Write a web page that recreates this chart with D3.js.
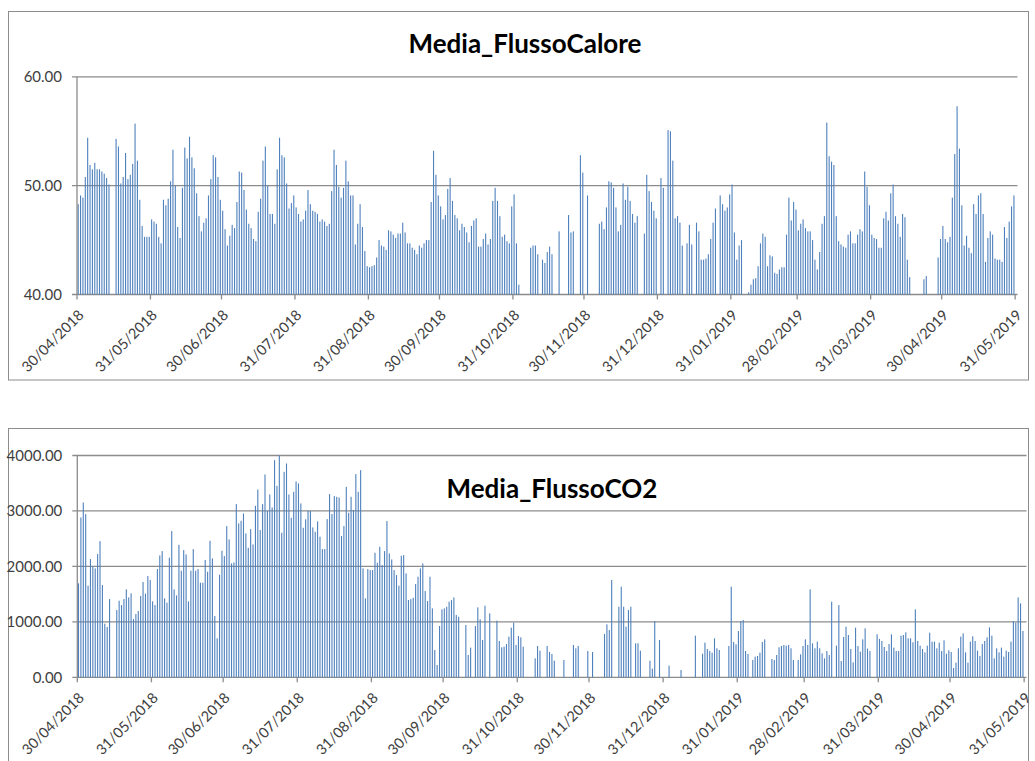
<!DOCTYPE html>
<html><head><meta charset="utf-8">
<script src="https://cdn.jsdelivr.net/npm/d3@7"></script>
<style>
html,body{margin:0;padding:0;background:#fff;}
svg{display:block;}
text{font-family:Lato,"Open Sans",sans-serif;}
</style></head>
<body>
<svg id="c" width="1035" height="761"></svg>
<script>
// ---- data ----
const startDate = "2018-04-30";
const endDate = "2019-05-31";
const tickLabels = ["30/04/2018","31/05/2018","30/06/2018","31/07/2018","31/08/2018","30/09/2018","31/10/2018","30/11/2018","31/12/2018","31/01/2019","28/02/2019","31/03/2019","30/04/2019","31/05/2019"];
const title1 = "Media_FlussoCalore";
const title2 = "Media_FlussoCO2";
const yTicks1 = [40, 50, 60];
const yTicks2 = [0, 1000, 2000, 3000, 4000];
const N = null;
const flussoCalore = [
48.3,49.1,48.9,50.8,54.4,51.9,51.5,52.1,51.5,51.5,51.3,51.1,50.7,50.1,N,N,54.3,53.6,50.2,50.8,
53.0,50.6,51.0,52.0,55.7,52.3,48.7,46.3,45.3,45.3,45.3,46.9,46.7,46.5,45.3,44.7,48.7,48.2,48.8,50.4,
53.3,50.0,46.2,45.2,49.8,53.5,52.5,54.5,52.6,51.6,49.3,47.2,45.8,46.6,47.0,49.1,50.6,52.8,52.6,50.8,
48.7,47.7,46.0,44.5,45.4,46.4,46.1,48.5,51.3,51.2,49.6,47.8,46.5,46.1,45.1,44.9,47.6,48.8,52.3,53.6,
50.0,47.4,47.4,46.5,51.5,54.4,52.8,52.6,50.2,47.9,48.4,49.1,48.0,47.4,46.7,46.9,47.7,49.6,48.3,47.7,
47.6,47.4,46.7,46.9,46.7,46.3,46.5,49.5,53.3,51.9,49.9,48.9,49.8,52.3,50.4,49.1,49.1,44.6,46.5,48.3,
46.2,44.0,42.6,42.5,42.6,42.7,43.4,45.0,44.5,44.4,44.1,45.9,45.8,45.5,45.2,45.6,45.6,46.6,45.7,44.7,
44.7,44.3,44.1,43.7,44.5,44.3,44.7,45.0,45.0,48.5,53.2,51.0,49.1,48.1,46.9,47.3,49.7,50.7,48.6,47.3,
47.0,45.9,46.5,46.2,45.7,44.8,46.3,46.8,47.0,44.4,44.4,45.1,45.6,44.6,45.1,48.6,49.8,48.6,47.2,45.3,
45.5,44.9,44.7,48.1,49.2,44.7,40.9,N,N,N,N,44.3,44.5,44.5,43.7,N,43.2,42.9,43.9,44.4,
43.7,N,N,45.8,N,N,N,47.3,45.7,45.8,N,N,52.8,51.2,N,49.1,N,N,N,N,
46.5,46.7,46.0,48.0,50.4,50.3,49.8,48.0,45.8,46.4,50.2,48.7,49.9,48.6,47.4,46.6,47.2,N,N,45.6,
51.0,49.5,48.5,47.7,47.0,N,50.7,49.8,N,55.1,55.0,52.3,47.0,47.2,46.6,44.5,N,44.7,46.4,44.6,
N,46.6,45.8,43.2,43.2,43.3,43.7,45.1,46.6,47.9,N,49.1,48.3,47.7,48.0,49.2,50.1,45.7,43.2,44.5,
45.0,N,N,40.2,40.9,41.4,41.5,42.6,44.7,45.6,45.3,42.6,43.6,43.5,42.0,41.9,42.3,42.5,42.5,45.5,
48.9,46.8,48.5,47.8,45.9,46.5,46.9,46.1,45.8,45.8,45.0,43.2,42.3,43.9,46.5,47.2,55.8,52.7,52.2,51.9,
47.2,44.9,44.6,44.4,44.3,45.5,45.8,44.7,44.7,45.5,46.0,45.8,51.3,49.9,48.2,45.5,45.2,45.1,44.3,44.3,
47.0,47.6,46.8,49.3,50.1,47.2,46.5,45.3,47.4,47.1,43.2,41.6,N,N,N,N,N,41.4,41.7,N,
N,N,N,43.4,45.1,46.3,45.1,44.8,45.3,48.9,52.9,57.3,53.4,48.2,44.5,45.4,44.3,43.8,48.3,47.4,
49.1,49.3,47.4,43.0,45.2,45.8,45.5,43.3,43.2,43.2,43.0,46.2,45.2,46.7,48.1,49.1,N
];
const flussoCO2 = [
1694,2883,3153,2943,1652,2132,2006,1964,2222,2456,1664,967,907,1411,N,N,1213,1381,1303,1411,
1586,1441,1514,1051,1141,1195,1465,1718,1508,1826,1754,1369,1303,1952,2198,2276,1423,1345,2156,2637,
1586,1477,2390,1922,2294,2216,1369,1922,2312,1922,1952,1706,1706,2114,1904,2462,2144,1105,703,1850,
2282,2186,2727,2486,2054,2072,3123,2775,2823,2955,2595,2336,2673,2396,3093,3387,2655,3123,3658,3003,
3297,3063,3916,3453,4000,2607,3706,3856,3297,2877,3345,3532,3496,3135,2697,2850,3003,3003,2703,2625,
2811,2535,2312,2312,2853,3303,2943,3267,3255,3243,2547,2727,3435,2967,3255,3015,3664,3345,3736,1964,
1423,1952,1934,1934,2246,2066,2354,2024,2276,2817,2234,2126,1934,1844,1652,2192,2204,1874,1393,1411,
1435,1682,1814,1964,2054,1556,1375,1814,1243,492,222,925,1225,1243,1273,1363,1393,1441,1123,1093,
N,N,943,402,535,N,925,1261,1045,673,1291,N,1153,N,N,1021,655,541,553,601,
733,895,985,583,745,721,553,N,N,N,N,342,565,480,N,N,565,456,420,300,
N,N,N,312,N,N,N,583,523,565,N,N,N,474,N,456,N,N,N,N,
781,955,853,1754,N,N,1273,1634,1273,913,1213,1273,N,613,613,480,N,N,N,300,
156,1015,N,673,N,N,N,210,N,N,N,N,132,N,N,N,N,N,751,N,
N,426,625,510,474,444,703,523,492,N,N,N,565,1634,637,595,835,1015,1033,474,
420,N,312,372,384,444,637,685,N,N,330,312,402,541,565,583,571,583,523,312,
N,312,414,565,685,583,1586,613,523,643,523,432,342,474,402,1363,N,571,1303,294,
727,913,763,511,270,895,565,462,685,883,517,474,N,N,775,691,655,547,474,601,
775,535,474,474,751,763,811,703,703,631,1225,655,571,511,450,571,805,643,643,523,
625,474,667,426,486,456,168,264,523,733,793,450,264,643,739,655,480,384,601,655,
721,901,751,342,523,450,535,372,480,456,643,1015,985,1441,1333,835,N
];

// ---- drawing ----
const svg = d3.select("#c");
const parseISO = d3.utcParse("%Y-%m-%d");
const parseLbl = d3.utcParse("%d/%m/%Y");
const days = d3.utcDay.range(parseISO(startDate), d3.utcDay.offset(parseISO(endDate), 1));
const keyOf = d => +d;

const gridCol = "#8c8c8c";
const barCol = "#4F81BD";
const txtCol = "#404040";

function panel(cfg) {
  const g = svg.append("g");
  g.append("rect").attr("x", cfg.box[0]).attr("y", cfg.box[1])
    .attr("width", cfg.box[2]).attr("height", cfg.box[3])
    .attr("fill", "#fff").attr("stroke", gridCol).attr("stroke-width", 1);

  const x = d3.scaleBand().domain(days.map(keyOf)).range([cfg.x0, cfg.x1]).padding(0);
  const y = d3.scaleLinear().domain(cfg.yDomain).range([cfg.yBottom, cfg.yTop]);

  g.append("g").selectAll("line").data(cfg.yTicks).join("line")
    .attr("x1", cfg.x0 - 5).attr("x2", cfg.x1)
    .attr("y1", d => y(d)).attr("y2", d => y(d))
    .attr("stroke", gridCol).attr("stroke-width", 1.3);

  const data = days.map((d, i) => ({d, v: cfg.values[i]})).filter(o => o.v !== null && o.v > cfg.yDomain[0]);
  g.append("g").selectAll("rect").data(data).join("rect")
    .attr("x", o => x(keyOf(o.d)) + x.bandwidth() / 2 - 0.55)
    .attr("width", 1.1)
    .attr("y", o => y(Math.min(o.v, cfg.yDomain[1])))
    .attr("height", o => y(cfg.yDomain[0]) - y(Math.min(o.v, cfg.yDomain[1])))
    .attr("fill", barCol);

  g.append("line").attr("x1", cfg.x0).attr("x2", cfg.x0)
    .attr("y1", cfg.yTop).attr("y2", cfg.yBottom)
    .attr("stroke", gridCol).attr("stroke-width", 1.3);
  g.append("g").selectAll("text").data(cfg.yTicks).join("text")
    .attr("x", cfg.x0 - 15).attr("y", d => y(d)).attr("dy", "0.35em")
    .attr("text-anchor", "end").attr("font-size", 15).attr("fill", txtCol)
    .text(d => d3.format(".2f")(d));

  const tdates = tickLabels.map(s => parseLbl(s));
  g.append("g").selectAll("line").data(tdates).join("line")
    .attr("x1", d => x(keyOf(d))).attr("x2", d => x(keyOf(d)))
    .attr("y1", cfg.yBottom).attr("y2", cfg.yBottom + 5)
    .attr("stroke", gridCol).attr("stroke-width", 1.3);
  g.append("g").selectAll("text").data(tickLabels).join("text")
    .attr("transform", (s, i) => `translate(${x(keyOf(tdates[i])) + 4},${cfg.yBottom + 18}) rotate(-45)`)
    .attr("text-anchor", "end").attr("dy", "0.35em")
    .attr("font-size", 14.5).attr("fill", txtCol)
    .text(s => s);

  g.append("text").attr("x", cfg.titleX).attr("y", cfg.titleY)
    .attr("text-anchor", "middle").attr("font-weight", "bold")
    .attr("font-size", cfg.titleSize).attr("fill", "#000")
    .text(cfg.title);
}

panel({
  box: [8.5, 11.5, 1020, 368.5],
  x0: 77, x1: 77 + 397 * 2.369,
  yTop: 76.8, yBottom: 294.5, yDomain: [40, 60], yTicks: yTicks1,
  values: flussoCalore, title: title1, titleX: 525, titleY: 53, titleSize: 26
});
panel({
  box: [8.5, 428.5, 1020, 340],
  x0: 77.3, x1: 77.3 + 397 * 2.391,
  yTop: 455.5, yBottom: 677.3, yDomain: [0, 4000], yTicks: yTicks2,
  values: flussoCO2, title: title2, titleX: 552, titleY: 498, titleSize: 26
});
</script>
</body></html>
